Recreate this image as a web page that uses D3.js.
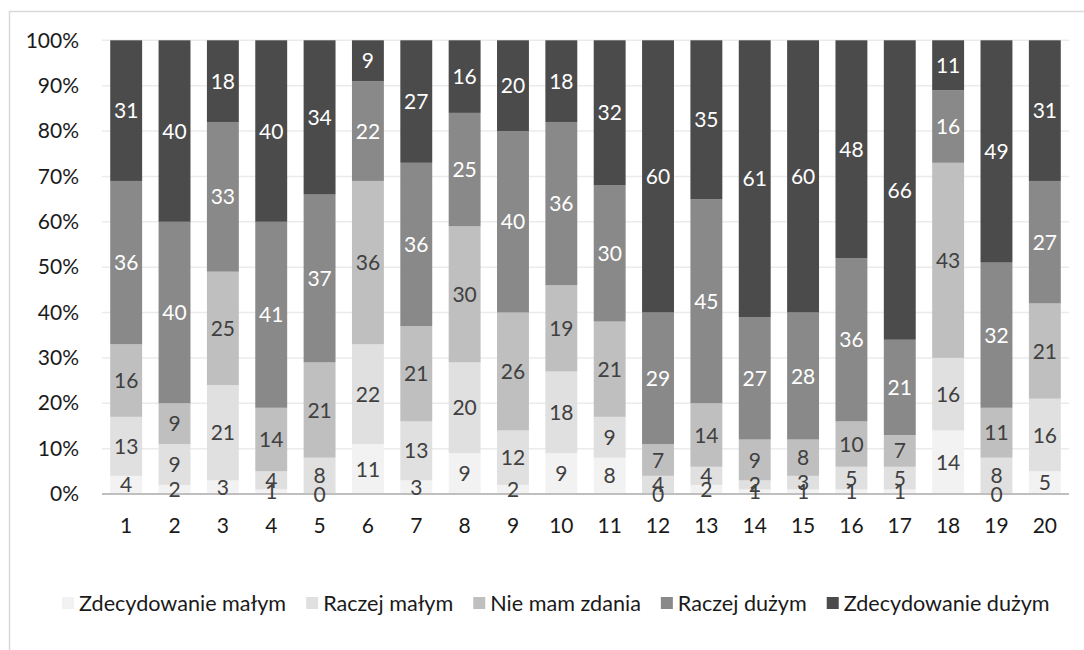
<!DOCTYPE html>
<html><head><meta charset="utf-8">
<script src="https://cdn.jsdelivr.net/npm/d3@7"></script>
<style>body{margin:0;background:#fff}svg{display:block}text{font-family:Lato,"Open Sans",sans-serif}</style>
</head><body>
<svg id="c" width="1084" height="650"></svg>
<script>
const categories = ["1","2","3","4","5","6","7","8","9","10","11","12","13","14","15","16","17","18","19","20"];
const seriesNames = ["Zdecydowanie małym","Raczej małym","Nie mam zdania","Raczej dużym","Zdecydowanie dużym"];
const zdecMalym  = [4,2,3,1,0,11,3,9,2,9,8,0,2,1,1,1,1,14,0,5];
const raczejMalym= [13,9,21,4,8,22,13,20,12,18,9,4,4,2,3,5,5,16,8,16];
const nieMam     = [16,9,25,14,21,36,21,30,26,19,21,7,14,9,8,10,7,43,11,21];
const raczejDuzym= [36,40,33,41,37,22,36,25,40,36,30,29,45,27,28,36,21,16,32,27];
const zdecDuzym  = [31,40,18,40,34,9,27,16,20,18,32,60,35,61,60,48,66,11,49,31];
const yTicks = [0,10,20,30,40,50,60,70,80,90,100];

const series = [zdecMalym, raczejMalym, nieMam, raczejDuzym, zdecDuzym];
const colors = ["#f2f2f2","#e0e0e0","#bfbfbf","#898989","#4b4b4b"];
const labelColors = ["#404040","#404040","#404040","#ffffff","#ffffff"];

const svg = d3.select("#c");
// outer border
svg.append("rect").attr("x",9.5).attr("y",11.5).attr("width",1200).attr("height",800)
  .attr("fill","none").attr("stroke","#d9d9d9").attr("stroke-width",1.5);

const x = d3.scaleBand().domain(categories).range([102,1069]).paddingInner(0.34).paddingOuter(0.17);
const y = d3.scaleLinear().domain([0,100]).range([494,40.3]);

// gridlines
svg.append("g").selectAll("line").data(yTicks.filter(t=>t>0)).join("line")
  .attr("x1",102).attr("x2",1069).attr("y1",d=>y(d)).attr("y2",d=>y(d))
  .attr("stroke","#ebebeb").attr("stroke-width",1.5);

// y axis labels
const yAxis = d3.axisLeft(y).tickValues(yTicks).tickFormat(d=>d+"%").tickSize(0).tickPadding(0);
const gy = svg.append("g").attr("transform","translate(79,0)").call(yAxis);
gy.select(".domain").remove();
gy.selectAll("text").attr("font-size",21).attr("fill","#1a1a1a").attr("font-family","Lato");

// stacked data
const rows = categories.map((c,i)=>{const o={cat:c}; seriesNames.forEach((s,j)=>o[s]=series[j][i]); return o;});
const stack = d3.stack().keys(seriesNames)(rows);

const gBars = svg.append("g");
stack.forEach((layer,j)=>{
  gBars.append("g").selectAll("rect").data(layer).join("rect")
    .attr("x",d=>x(d.data.cat)).attr("width",x.bandwidth())
    .attr("y",d=>y(d[1])).attr("height",d=>y(d[0])-y(d[1]))
    .attr("fill",colors[j]);
});

// baseline
svg.append("line").attr("x1",102).attr("x2",1069).attr("y1",y(0)).attr("y2",y(0))
  .attr("stroke","#bfbfbf").attr("stroke-width",1.8);

// data labels
stack.forEach((layer,j)=>{
  svg.append("g").selectAll("text").data(layer).join("text")
    .attr("x",d=>x(d.data.cat)+x.bandwidth()/2)
    .attr("y",d=>(y(d[0])+y(d[1]))/2)
    .attr("dy","0.36em").attr("text-anchor","middle")
    .attr("font-size",21).attr("fill",labelColors[j])
    .text(d=>d[1]-d[0]);
});

// x axis labels
const xAxis = d3.axisBottom(x).tickSize(0).tickPadding(0);
const gx = svg.append("g").attr("transform","translate(0,525)").call(xAxis);
gx.select(".domain").remove();
gx.selectAll("text").attr("dy","0.36em").attr("font-size",21).attr("fill","#1a1a1a").attr("font-family","Lato");

// legend
const legend = svg.append("g").attr("transform","translate(0,603)");
let lx = 62;
seriesNames.forEach((s,j)=>{
  const g = legend.append("g").attr("transform",`translate(${lx},0)`);
  g.append("rect").attr("x",0).attr("y",-6).attr("width",12).attr("height",12).attr("fill",colors[j]);
  const t = g.append("text").attr("x",17).attr("dy","0.36em").attr("font-size",21.6).attr("fill","#1a1a1a").text(s);
  lx += 17 + t.node().getComputedTextLength() + 20;
});
</script>
</body></html>
